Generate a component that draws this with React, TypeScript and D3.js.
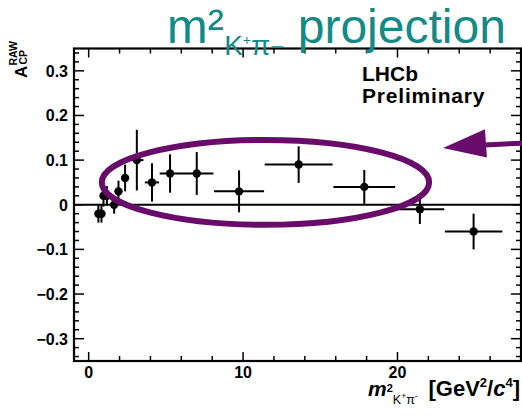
import React from "react";
import * as d3 from "d3";

// bin centres, half widths, raw asymmetry and its error
const binCenters = [0.63, 0.83, 0.96, 1.18, 1.65, 1.93, 2.36, 3.12, 4.1, 5.27, 7.0, 9.74, 13.6, 17.85, 21.45, 24.93];
const binHalfWidths = [0.05, 0.05, 0.05, 0.05, 0.1, 0.1, 0.15, 0.43, 0.46, 0.67, 1.08, 1.62, 2.2, 2.0, 1.58, 1.86];
const acpValues = [-0.02, -0.02, 0.02, 0.02, 0.0, 0.03, 0.06, 0.1, 0.05, 0.07, 0.07, 0.03, 0.09, 0.04, -0.01, -0.06];
const acpErrors = [0.02, 0.02, 0.024, 0.022, 0.02, 0.024, 0.03, 0.068, 0.043, 0.043, 0.048, 0.047, 0.041, 0.038, 0.033, 0.04];

const xMajorTicks = [0, 10, 20];
const yMajorTicks = [-0.3, -0.2, -0.1, 0, 0.1, 0.2, 0.3];

const W = 522;
const H = 417;
const left = 74, right = 521, top = 48.5, bottom = 361;

const purple = "#690b6b";
const teal = "#138a86";
const font = "'Liberation Sans', Arial, Helvetica, sans-serif";

export default function App() {
  const x = d3.scaleLinear().domain([-0.95, 28]).range([left, right]);
  const y = d3.scaleLinear().domain([-0.35, 0.35]).range([bottom, top]);

  const xMinor = d3.range(0, 28, 2).filter((v) => !xMajorTicks.includes(v));
  const yMinor = d3.range(-34, 35, 2).map((v) => v / 100).filter((v) => Math.abs(Math.round(v * 100) % 10) !== 0);

  const pts = binCenters.map((c, i) => ({ c, hw: binHalfWidths[i], v: acpValues[i], e: acpErrors[i] }));

  // annotation in data coordinates
  const ell = { cx: 11.45, cy: 0.05, rx: 10.6, ry: 0.095 };
  const arrowTail = { x: 28.1, y: 0.138 };
  const arrowBase = { x: 25.6, y: 0.134 };
  const arrowTip = { x: 22.95, y: 0.127 };

  const ex = x(ell.cx), ey = y(ell.cy);
  const erx = x(ell.cx + ell.rx) - ex, ery = ey - y(ell.cy + ell.ry);

  return (
    <svg width={W} height={H} style={{ position: "absolute", left: 0, top: 0, background: "#fff" }} fontFamily={font}>
      <rect width={W} height={H} fill="#fff" />
      {/* zero line */}
      <line x1={left} x2={right} y1={y(0)} y2={y(0)} stroke="#000" strokeWidth={2} />

      {/* ticks */}
      <g stroke="#000" strokeWidth={1.5}>
        {xMajorTicks.map((t) => (
          <g key={"xm" + t}>
            <line x1={x(t)} x2={x(t)} y1={bottom} y2={bottom - 9} />
            <line x1={x(t)} x2={x(t)} y1={top} y2={top + 9} />
          </g>
        ))}
        {xMinor.map((t) => (
          <g key={"xn" + t}>
            <line x1={x(t)} x2={x(t)} y1={bottom} y2={bottom - 5} />
            <line x1={x(t)} x2={x(t)} y1={top} y2={top + 5} />
          </g>
        ))}
        {yMajorTicks.map((t) => (
          <g key={"ym" + t}>
            <line x1={left} x2={left + 10} y1={y(t)} y2={y(t)} />
            <line x1={right} x2={right - 10} y1={y(t)} y2={y(t)} />
          </g>
        ))}
        {yMinor.map((t) => (
          <g key={"yn" + t}>
            <line x1={left} x2={left + 5} y1={y(t)} y2={y(t)} />
            <line x1={right} x2={right - 5} y1={y(t)} y2={y(t)} />
          </g>
        ))}
      </g>

      {/* frame */}
      <rect x={left} y={top} width={right - left} height={bottom - top} fill="none" stroke="#000" strokeWidth={2.2} />

      {/* tick labels */}
      <g fontWeight="bold" fontSize={16} fill="#000">
        {xMajorTicks.map((t) => (
          <text key={"xl" + t} x={x(t)} y={378} textAnchor="middle">{t}</text>
        ))}
        {yMajorTicks.map((t) => (
          <text key={"yl" + t} x={68} y={y(t) + 6} textAnchor="end">{t === 0 ? "0" : d3.format(".1f")(t)}</text>
        ))}
      </g>

      {/* data points */}
      <g stroke="#000" strokeWidth={2}>
        {pts.map((p, i) => (
          <g key={i}>
            <line x1={x(p.c - p.hw)} x2={x(p.c + p.hw)} y1={y(p.v)} y2={y(p.v)} />
            <line x1={x(p.c)} x2={x(p.c)} y1={y(p.v - p.e)} y2={y(p.v + p.e)} />
            <circle cx={x(p.c)} cy={y(p.v)} r={4.2} fill="#000" stroke="none" />
          </g>
        ))}
      </g>

      {/* LHCb label */}
      <g fontWeight="bold" fill="#000" fontSize={21}>
        <text x={362} y={81}>LHCb</text>
        <text x={362} y={103} letterSpacing={0.8}>Preliminary</text>
      </g>

      {/* y axis label */}
      <g transform="translate(27,78) rotate(-90)" fontWeight="bold" fill="#000">
        <text x={0} y={0} fontSize={17}>A</text>
        <text x={13.5} y={0} fontSize={10.5}>CP</text>
        <text x={12.5} y={-10} fontSize={10.5}>RAW</text>
      </g>

      {/* x axis label */}
      <g fontWeight="bold" fill="#000">
        <text x={368} y={396} fontSize={21}>
          <tspan fontStyle="italic">m</tspan>
          <tspan fontSize={11} dy={-4}>2</tspan>
          <tspan fontSize={12.5} fontWeight="normal" dy={12}>K</tspan>
          <tspan fontSize={8.5} fontWeight="normal" dy={-5}>+</tspan>
          <tspan fontSize={12.5} fontWeight="normal" dy={5}>π</tspan>
          <tspan fontSize={8.5} fontWeight="normal" dy={-5}>-</tspan>
        </text>
        <text x={520} y={396} textAnchor="end" fontSize={22}>
          [GeV<tspan fontSize={13} dy={-9}>2</tspan>
          <tspan dy={9}>/</tspan>
          <tspan fontStyle="italic">c</tspan>
          <tspan fontSize={13} dy={-9}>4</tspan>
          <tspan dy={9}>]</tspan>
        </text>
      </g>

      {/* annotation */}
      <ellipse cx={ex} cy={ey} rx={erx} ry={ery} fill="none" stroke={purple} strokeWidth={6} />
      <line x1={x(arrowTail.x)} y1={y(arrowTail.y)} x2={x(arrowBase.x)} y2={y(arrowBase.y)} stroke={purple} strokeWidth={5} />
      <polygon
        points={[
          [x(arrowTip.x), y(arrowTip.y)],
          [x(arrowBase.x) + 1, y(arrowBase.y + 0.035)],
          [x(arrowBase.x) + 3, y(arrowBase.y - 0.028)],
        ].map((p) => p.join(",")).join(" ")}
        fill={purple}
      />

      {/* title */}
      <text x={167} y={43} fill={teal} fontSize={49}>
        m²<tspan fontSize={28} dy={12}>K</tspan>
        <tspan fontSize={14} dy={-10}>+</tspan>
        <tspan fontSize={28} dy={10}>π</tspan>
        <tspan fontSize={24}>−</tspan>
        <tspan fontSize={48} dy={-12}> projection</tspan>
      </text>
    </svg>
  );
}
